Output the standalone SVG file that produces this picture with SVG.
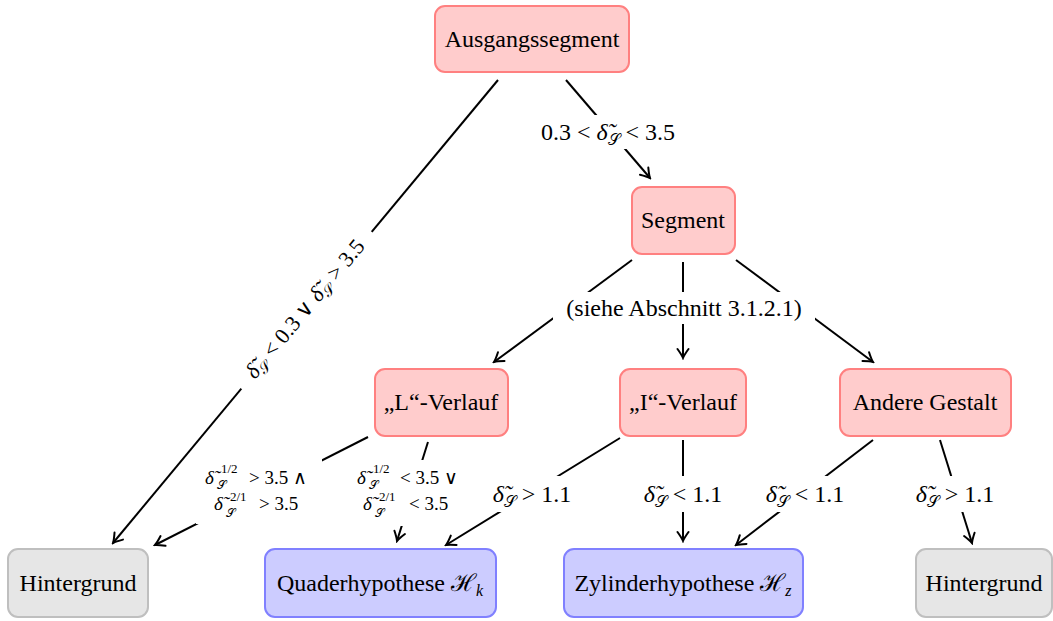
<svg xmlns="http://www.w3.org/2000/svg" width="1053" height="621" viewBox="0 0 1053 621">
<style>
.n{font-size:24px;text-anchor:middle}
.l{font-size:24px;text-anchor:middle}
.d{font-style:italic}
.ds{font-size:19px;font-style:italic}
.red{fill:#ffcccc;stroke:#ff8080;stroke-width:2}
.gray{fill:#e6e6e6;stroke:#bfbfbf;stroke-width:2}
.blue{fill:#ccccff;stroke:#8080ff;stroke-width:2}
.e{stroke:#000;stroke-width:2;fill:none;marker-end:url(#ah)}
.bg{fill:#fff}
</style>
<defs>
<marker id="ah" markerUnits="userSpaceOnUse" viewBox="-12 -8 14 16" markerWidth="14" markerHeight="16" refX="0" refY="0" orient="auto">
<path d="M-9,-5.5 Q-3,-1.2 0,0 Q-3,1.2 -9,5.5" fill="none" stroke="#000" stroke-width="2" stroke-linecap="round"/>
</marker>
</defs>
<g font-family="Liberation Serif" fill="#000">
<g id="connectors">
<line class="e" x1="498" y1="80" x2="113" y2="543"/>
<line class="e" x1="566" y1="80" x2="650" y2="178"/>
<line class="e" x1="632" y1="260" x2="494" y2="362"/>
<line class="e" x1="683" y1="262" x2="683" y2="358"/>
<line class="e" x1="736" y1="260" x2="873" y2="362"/>
<line class="e" x1="368" y1="437" x2="155" y2="545"/>
<line class="e" x1="428" y1="442" x2="397" y2="541"/>
<line class="e" x1="620" y1="438" x2="446" y2="545"/>
<line class="e" x1="683" y1="440" x2="683" y2="541"/>
<line class="e" x1="873" y1="440" x2="736" y2="545"/>
<line class="e" x1="940" y1="440" x2="972" y2="543"/>
<g transform="translate(305,309) rotate(-50.26)">
<rect class="bg" x="-102" y="-15" width="204" height="30"/>
<text font-size="22" text-anchor="middle" x="0" y="7"><tspan class="d">δ̃</tspan><tspan font-size="15" dy="4">𝒮</tspan><tspan dy="-4"> &lt; 0.3 ∨ </tspan><tspan class="d">δ̃</tspan><tspan font-size="15" dy="4">𝒮</tspan><tspan dy="-4"> &gt; 3.5</tspan></text>
</g>
<rect class="bg" x="532" y="115" width="152" height="34"/>
<text class="l" x="608" y="140">0.3 &lt; <tspan class="d">δ̃</tspan><tspan font-size="16" dy="5">𝒮</tspan><tspan dy="-5"> &lt; 3.5</tspan></text>
<rect class="bg" x="553" y="292" width="262" height="32"/>
<text class="l" x="684" y="316">(siehe Abschnitt 3.1.2.1)</text>
<rect class="bg" x="196" y="458" width="126" height="66"/>
<text class="ds" x="205" y="484">δ̃</text>
<text font-size="13" x="221" y="473">1/2</text>
<text font-size="12" x="217" y="489">𝒮</text>
<text font-size="19" x="249" y="484">&gt; 3.5 ∧</text>
<text class="ds" x="214" y="510">δ̃</text>
<text font-size="13" x="230" y="501">2/1</text>
<text font-size="12" x="226" y="517">𝒮</text>
<text font-size="19" x="259" y="510">&gt; 3.5</text>
<rect class="bg" x="350" y="460" width="120" height="66"/>
<text class="ds" x="357" y="484">δ̃</text>
<text font-size="13" x="373" y="473">1/2</text>
<text font-size="12" x="369" y="489">𝒮</text>
<text font-size="19" x="400" y="484">&lt; 3.5 ∨</text>
<text class="ds" x="363" y="510">δ̃</text>
<text font-size="13" x="379" y="501">2/1</text>
<text font-size="12" x="375" y="517">𝒮</text>
<text font-size="19" x="409" y="510">&lt; 3.5</text>
<rect class="bg" x="484" y="476" width="96" height="36"/>
<text class="l" x="532" y="502"><tspan class="d">δ̃</tspan><tspan font-size="16" dy="5">𝒮</tspan><tspan dy="-5"> &gt; 1.1</tspan></text>
<rect class="bg" x="635" y="476" width="96" height="36"/>
<text class="l" x="683" y="502"><tspan class="d">δ̃</tspan><tspan font-size="16" dy="5">𝒮</tspan><tspan dy="-5"> &lt; 1.1</tspan></text>
<rect class="bg" x="757" y="476" width="96" height="36"/>
<text class="l" x="805" y="502"><tspan class="d">δ̃</tspan><tspan font-size="16" dy="5">𝒮</tspan><tspan dy="-5"> &lt; 1.1</tspan></text>
<rect class="bg" x="907" y="476" width="96" height="36"/>
<text class="l" x="955" y="502"><tspan class="d">δ̃</tspan><tspan font-size="16" dy="5">𝒮</tspan><tspan dy="-5"> &gt; 1.1</tspan></text>
</g>
<g id="ausgangssegment"><rect class="red" x="435" y="6" width="194" height="66" rx="10"/><text class="n" x="532" y="47">Ausgangssegment</text></g>
<g id="segment"><rect class="red" x="632" y="187" width="103" height="67" rx="10"/><text class="n" x="683" y="228">Segment</text></g>
<g id="l-verlauf"><rect class="red" x="375" y="369" width="133" height="67" rx="10"/><text class="n" x="441" y="410">„L“-Verlauf</text></g>
<g id="i-verlauf"><rect class="red" x="620" y="369" width="126" height="67" rx="10"/><text class="n" x="683" y="410">„I“-Verlauf</text></g>
<g id="andere-gestalt"><rect class="red" x="840" y="369" width="171" height="67" rx="10"/><text class="n" x="925" y="410">Andere Gestalt</text></g>
<g id="hintergrund-links"><rect class="gray" x="8" y="549" width="140" height="68" rx="10"/><text class="n" x="78" y="591">Hintergrund</text></g>
<g id="quaderhypothese"><rect class="blue" x="265" y="549" width="231" height="68" rx="10"/><text class="n" x="380" y="591">Quaderhypothese ℋ<tspan font-style="italic" font-size="16" dy="5">k</tspan></text></g>
<g id="zylinderhypothese"><rect class="blue" x="564" y="549" width="239" height="68" rx="10"/><text class="n" x="683" y="591">Zylinderhypothese ℋ<tspan font-style="italic" font-size="16" dy="5">z</tspan></text></g>
<g id="hintergrund-rechts"><rect class="gray" x="916" y="549" width="136" height="68" rx="10"/><text class="n" x="984" y="591">Hintergrund</text></g>
</g>
</svg>
